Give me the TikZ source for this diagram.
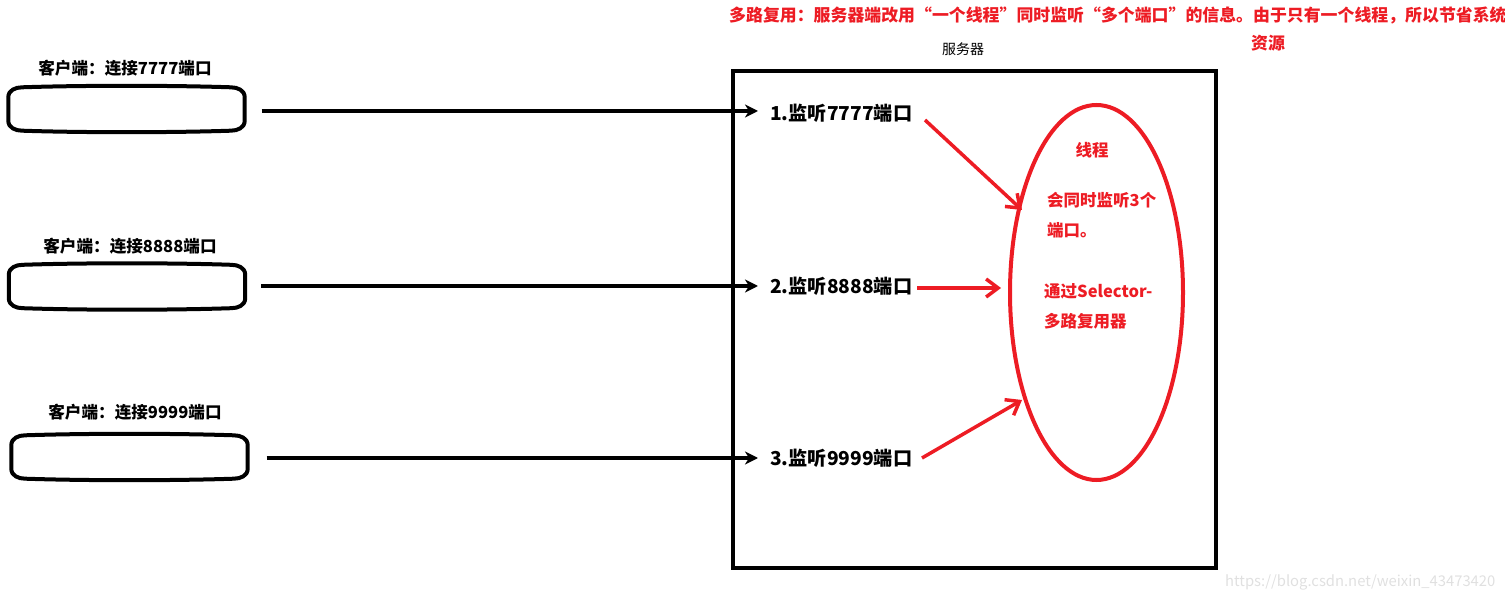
\documentclass[tikz,border=0pt]{standalone}
\usepackage{fontspec}
\setmainfont{Noto Sans CJK SC}
\usetikzlibrary{arrows.meta,shapes.geometric}
\definecolor{myred}{RGB}{237,28,36}
\tikzset{
  client/.style={draw=none,minimum width=236pt,minimum height=45pt,inner sep=0pt},
  cbox/.style={draw=black,line width=4pt},
  clabel/.style={font=\fontsize{16.6}{16.6}\selectfont\bfseries,text=black,inner sep=0pt},
  plabel/.style={font=\fontsize{19.2}{19.2}\selectfont\bfseries,text=black,inner sep=0pt,anchor=west},
  rtext/.style={font=\fontsize{16.5}{16.5}\selectfont\bfseries,text=myred,inner sep=0pt,anchor=west},
  blk/.style={draw=black,line width=3.5pt,-{Stealth[length=13pt,width=13pt,inset=4pt]}},
  red/.style={draw=myred,line width=3.5pt,-{Straight Barb[length=12pt,width=18pt,line width=3.5pt]}}
}
\newcommand{\clientshape}[1]{%
  \draw[cbox] ([shift={(0,11)}]#1.north west)
    .. controls +(0,-7) and +(-7,0) .. ([shift={(14,1)}]#1.north west)
    .. controls +(60,-2) and +(-60,-2) .. ([shift={(-14,1)}]#1.north east)
    .. controls +(7,0) and +(0,-7) .. ([shift={(0,11)}]#1.north east)
    -- ([shift={(0,-11)}]#1.south east)
    .. controls +(0,7) and +(7,0) .. ([shift={(-14,-1)}]#1.south east)
    .. controls +(-60,2) and +(60,2) .. ([shift={(14,-1)}]#1.south west)
    .. controls +(-7,0) and +(0,7) .. ([shift={(0,-11)}]#1.south west)
    -- cycle;}
\begin{document}
\begin{tikzpicture}[x=1pt,y=-1pt]
\useasboundingbox (0,0) rectangle (1505,601);
% title
\node[font=\fontsize{16.9}{16.9}\selectfont\bfseries,text=myred,inner sep=0pt,anchor=west] (t1) at (729,15) {多路复用：服务器端改用“一个线程”同时监听“多个端口”的信息。由于只有一个线程，所以节省系统};
\node[font=\fontsize{16.9}{16.9}\selectfont\bfseries,text=myred,inner sep=0pt,anchor=west] (t2) at (1251,43) {资源};
% server
\node[font=\fontsize{14}{14}\selectfont,inner sep=0pt] (srvl) at (963,49) {服务器};
\node[draw=black,line width=4pt,minimum width=483pt,minimum height=497pt,inner sep=0pt] (srv) at (974.5,319.5) {};
% clients
\node[client] (c1) at (126.5,109) {};
\node[client] (c2) at (127,286.5) {};
\node[client] (c3) at (129.5,457) {};
\clientshape{c1}
\clientshape{c2}
\clientshape{c3}
\node[clabel] (l1) at (125,68) {客户端：连接7777端口};
\node[clabel] (l2) at (130,246) {客户端：连接8888端口};
\node[clabel] (l3) at (135,412) {客户端：连接9999端口};
% ports
\node[plabel] (p1) at (770,113) {1.监听7777端口};
\node[plabel] (p2) at (770,286) {2.监听8888端口};
\node[plabel] (p3) at (770,458) {3.监听9999端口};
\draw[blk,shorten <=17pt,shorten >=12pt] (c1.east |- p1.west) ++(0,-2) coordinate (s1) (s1) -- (s1 -| p1.west);
\draw[blk,shorten <=16pt,shorten >=12pt] (c2.east |- p2.west) coordinate (s2) -- (p2.west);
\draw[blk,shorten <=19pt,shorten >=12pt] (c3.east |- p3.west) coordinate (s3) -- (p3.west);
% ellipse
\node[ellipse,draw=myred,line width=4pt,minimum width=173pt,minimum height=375pt,inner sep=0pt] (el) at (1096.5,292.5) {};
\node[font=\fontsize{16.5}{16.5}\selectfont\bfseries,text=myred,inner sep=0pt] (r0) at (1092,150) {线程};
\node[rtext] (r1) at (1047,200) {会同时监听3个};
\node[rtext] (r2) at (1047,230) {端口。};
\node[rtext] (r3) at (1044,291) {通过Selector-};
\node[rtext] (r4) at (1044,321) {多路复用器};
% red arrows
\coordinate (e1) at (1022,210);
\coordinate (e2) at (1001,288);
\coordinate (e3) at (1022,400);
\coordinate (a1) at (925,120);
\coordinate (a2) at (917,288);
\coordinate (a3) at (922,458);
\draw[red] (a1) -- (e1);
\draw[red] (a2) -- (e2);
\draw[red] (a3) -- (e3);
% watermark
\node[font=\fontsize{14.8}{14.8}\selectfont,text=black!12,inner sep=0pt,anchor=west] (wm) at (1225,582) {https://blog.csdn.net/weixin\_43473420};
\end{tikzpicture}
\end{document}
